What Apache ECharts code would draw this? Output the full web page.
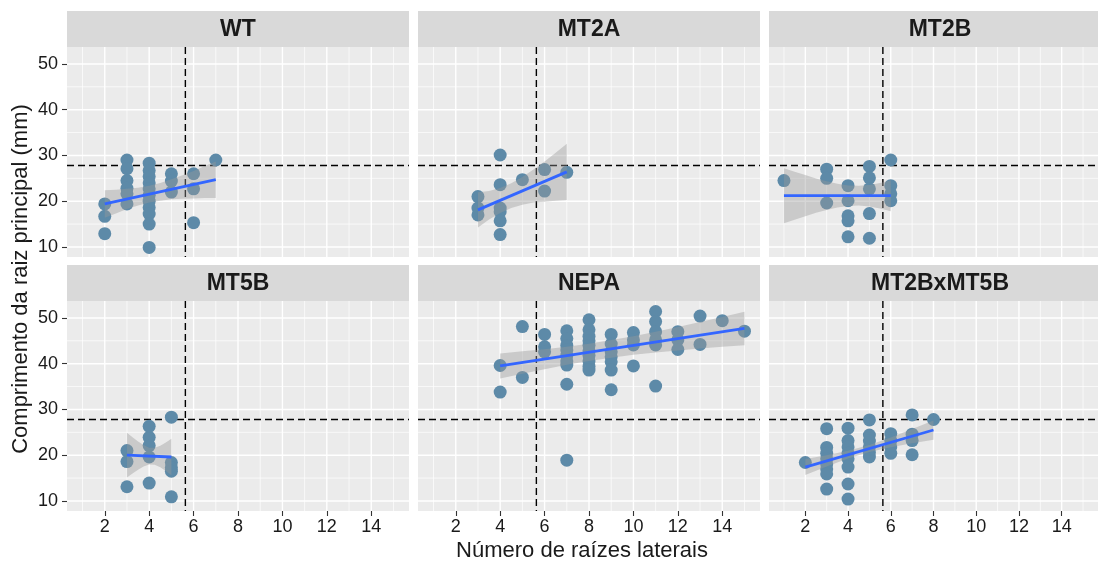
<!DOCTYPE html>
<html>
<head>
<meta charset="utf-8">
<script src="https://cdn.jsdelivr.net/npm/echarts@6/dist/echarts.min.js"></script>
<style>
  html, body { margin: 0; padding: 0; background: #fff; }
  #chart { width: 1098px; height: 563px; }
</style>
</head>
<body>
<div id="chart"></div>
<script>
// facet names and axis ticks
const panelNames = ['WT', 'MT2A', 'MT2B', 'MT5B', 'NEPA', 'MT2BxMT5B'];
const xTicks = [2, 4, 6, 8, 10, 12, 14];
const yTicks = [10, 20, 30, 40, 50];
const xMinor = [1, 3, 5, 7, 9, 11, 13, 15];
const yMinor = [15, 25, 35, 45];
const xRange = [0.3, 15.7];
const yRange = [7.8, 53.7];
const refX = 5.63;   // vertical dashed line
const refY = 27.8;   // horizontal dashed line

// points [lateral roots, root length]
const ptsWT = [[2,19.4],[2,16.7],[2,12.9],
  [3,29.0],[3,27.1],[3,24.5],[3,22.8],[3,21.6],[3,19.4],
  [4,28.3],[4,26.7],[4,25.4],[4,24.0],[4,22.7],[4,21.3],[4,20.0],[4,18.6],[4,17.2],[4,15.0],[4,9.9],
  [5,26.0],[5,24.4],[5,22.0],
  [6,26.0],[6,22.7],[6,15.3],
  [7,29.0]];
const ptsMT2A = [[3,21.0],[3,18.5],[3,17.0],
  [4,30.1],[4,23.6],[4,18.5],[4,17.7],[4,15.7],[4,12.7],
  [5,24.7],
  [6,26.9],[6,22.2],
  [7,26.3]];
const ptsMT2B = [[1,24.5],
  [3,27.0],[3,25.0],[3,19.6],
  [4,23.4],[4,20.1],[4,16.8],[4,15.7],[4,12.2],
  [5,27.6],[5,25.1],[5,22.7],[5,17.3],[5,11.9],
  [6,29.0],[6,23.4],[6,21.6],[6,20.1]];
const ptsMT5B = [[3,21.0],[3,18.6],[3,13.1],
  [4,26.3],[4,23.9],[4,22.1],[4,19.6],[4,13.9],
  [5,28.3],[5,18.4],[5,17.3],[5,16.5],[5,10.9]];
const ptsNEPA = [[4,39.6],[4,33.8],
  [5,48.1],[5,37.0],
  [6,46.4],[6,43.7],[6,42.6],
  [7,47.2],[7,45.5],[7,44.0],[7,43.0],[7,41.8],[7,40.6],[7,39.7],[7,35.5],[7,18.9],
  [8,49.6],[8,47.4],[8,46.0],[8,45.0],[8,44.0],[8,42.8],[8,41.8],[8,40.6],[8,39.4],[8,38.6],
  [9,46.4],[9,44.3],[9,42.6],[9,41.5],[9,40.4],[9,38.6],[9,34.3],
  [10,46.8],[10,45.2],[10,44.1],[10,39.5],
  [11,51.4],[11,49.2],[11,47.0],[11,45.2],[11,44.1],[11,35.1],
  [12,47.0],[12,45.2],[12,43.1],
  [13,50.4],[13,44.2],
  [14,49.4],
  [15,47.1]];
const ptsMT2BxMT5B = [[2,18.4],
  [3,25.8],[3,21.7],[3,20.4],[3,19.2],[3,18.1],[3,17.0],[3,15.9],[3,12.6],
  [4,25.9],[4,23.2],[4,21.8],[4,20.4],[4,19.2],[4,17.4],[4,13.7],[4,10.4],
  [5,27.7],[5,24.4],[5,23.1],[5,21.8],[5,20.6],[5,19.6],
  [6,24.7],[6,23.2],[6,21.8],[6,20.4],
  [7,28.8],[7,24.6],[7,23.2],[7,20.1],
  [8,27.8]];

// fitted lines (ends)
const fitWT = [[2,19.4],[7,24.7]];
const fitMT2A = [[3,18.1],[7,26.4]];
const fitMT2B = [[1,21.2],[6,21.2]];
const fitMT5B = [[3,20.0],[5,19.6]];
const fitNEPA = [[4,39.5],[15,47.7]];
const fitMT2BxMT5B = [[2,17.4],[8,25.5]];

// confidence bands [x, lower, upper]
const bandWT = [[2,16.4,22.4],[2.5,17.3,22.5],[3,18.3,22.7],[3.5,19.05,22.95],[4,19.7,23.4],
  [4.5,20.1,24.0],[5,20.4,24.8],[5.5,20.55,25.65],[6,20.6,26.6],[6.5,20.7,27.7],[7,20.7,28.7]];
const bandMT2A = [[3,14.25,21.95],[3.5,16.0,22.2],[4,17.4,22.9],[4.5,18.5,23.9],[5,19.2,25.3],
  [5.5,19.7,26.9],[6,19.9,28.7],[6.5,20.1,30.6],[7,20.25,32.55]];
const bandMT2B = [[1,15.2,27.2],[1.5,15.95,26.45],[2,16.7,25.7],[2.5,17.45,24.95],[3,18.05,24.35],
  [3.5,18.6,23.8],[4,18.95,23.45],[4.5,19.05,23.35],[5,18.85,23.55],[5.5,18.4,24.0],[6,17.8,24.6]];
const bandMT5B = [[3,15.1,24.9],[3.25,16.0,23.9],[3.5,16.8,23.0],[3.75,17.5,22.2],[4,17.95,21.65],
  [4.25,17.9,21.6],[4.5,17.35,22.05],[4.75,16.55,22.75],[5,15.6,23.6]];
const bandNEPA = [[4,36.75,42.25],[5,37.8,42.7],[6,38.8,43.15],[7,39.75,43.7],[8,40.6,44.35],
  [9,41.3,45.15],[10,41.95,46.0],[11,42.45,47.0],[12,42.9,48.0],[13,43.3,49.1],[14,43.7,50.2],[15,44.05,51.35]];
const bandMT2BxMT5B = [[2,15.65,19.15],[3,17.5,20.0],[4,19.25,20.95],[5,20.7,22.2],
  [6,21.75,23.85],[7,22.6,25.7],[8,23.4,27.6]];

const points = [ptsWT, ptsMT2A, ptsMT2B, ptsMT5B, ptsNEPA, ptsMT2BxMT5B];
const fits = [fitWT, fitMT2A, fitMT2B, fitMT5B, fitNEPA, fitMT2BxMT5B];
const bands = [bandWT, bandMT2A, bandMT2B, bandMT5B, bandNEPA, bandMT2BxMT5B];

// layout
const colLeft = [67, 418, 769];
const rowTop = [47, 301];
const panelW = 342, panelH = 210, stripH = 36;
const FONT = '"Liberation Sans", Arial, Helvetica, sans-serif';

const chart = echarts.init(document.getElementById('chart'));

const grids = [], xAxes = [], yAxes = [], series = [], graphics = [];

// grid line items: [kind, value]  kind 0 = x major, 1 = x minor, 2 = y major, 3 = y minor
const gridItems = []
  .concat(xMinor.map(v => [1, v]))
  .concat(yMinor.map(v => [3, v]))
  .concat(xTicks.map(v => [0, v]))
  .concat(yTicks.map(v => [2, v]));

panelNames.forEach((name, i) => {
  const col = i % 3, row = Math.floor(i / 3);
  const bottom = row === 1, left = col === 0;

  grids.push({
    left: colLeft[col], top: rowTop[row], width: panelW, height: panelH,
    show: true, backgroundColor: '#EBEBEB', borderWidth: 0
  });
  xAxes.push({
    gridIndex: i, type: 'value', min: xRange[0], max: xRange[1],
    axisLine: { show: false }, splitLine: { show: false },
    axisTick: { show: bottom, customValues: xTicks, length: 5, lineStyle: { color: '#333', width: 1.1 } },
    axisLabel: { show: bottom, customValues: xTicks, fontSize: 18, color: '#1a1a1a', margin: 7, fontFamily: FONT }
  });
  yAxes.push({
    gridIndex: i, type: 'value', min: yRange[0], max: yRange[1],
    axisLine: { show: false }, splitLine: { show: false },
    axisTick: { show: left, customValues: yTicks, length: 5, lineStyle: { color: '#333', width: 1.1 } },
    axisLabel: { show: left, customValues: yTicks, fontSize: 18, color: '#1a1a1a', margin: 9, fontFamily: FONT }
  });

  // white panel grid
  series.push({
    type: 'custom', xAxisIndex: i, yAxisIndex: i, silent: true, z: 1,
    data: gridItems,
    renderItem(params, api) {
      const cs = params.coordSys;
      const kind = api.value(0), v = api.value(1);
      const w = (kind === 0 || kind === 2) ? 1.4 : 0.7;
      let shape;
      if (kind < 2) {
        const p = api.coord([v, yRange[0]]);
        shape = { x1: p[0], y1: cs.y, x2: p[0], y2: cs.y + cs.height };
      } else {
        const p = api.coord([xRange[0], v]);
        shape = { x1: cs.x, y1: p[1], x2: cs.x + cs.width, y2: p[1] };
      }
      return { type: 'line', shape, style: { stroke: '#fff', lineWidth: w } };
    }
  });

  // dashed reference lines
  series.push({
    type: 'custom', xAxisIndex: i, yAxisIndex: i, silent: true, z: 2,
    data: [[0, refX], [1, refY]],
    renderItem(params, api) {
      const cs = params.coordSys;
      const kind = api.value(0), v = api.value(1);
      let shape;
      if (kind === 0) {
        const p = api.coord([v, yRange[0]]);
        shape = { x1: p[0], y1: cs.y, x2: p[0], y2: cs.y + cs.height };
      } else {
        const p = api.coord([xRange[0], v]);
        shape = { x1: cs.x, y1: p[1], x2: cs.x + cs.width, y2: p[1] };
      }
      return { type: 'line', shape, style: { stroke: '#000', lineWidth: 1.4, lineDash: [7, 4] } };
    }
  });

  series.push({
    type: 'scatter', xAxisIndex: i, yAxisIndex: i, z: 3,
    data: points[i], symbolSize: 13,
    itemStyle: { color: '#5D8AA8', opacity: 1 }
  });

  const band = bands[i];
  series.push({
    type: 'custom', xAxisIndex: i, yAxisIndex: i, silent: true, z: 4,
    data: band,
    renderItem(params, api) {
      if (params.dataIndex !== 0) return;
      const upper = band.map(r => api.coord([r[0], r[2]]));
      const lower = band.slice().reverse().map(r => api.coord([r[0], r[1]]));
      return { type: 'polygon', shape: { points: upper.concat(lower) },
               style: { fill: 'rgba(153,153,153,0.4)' } };
    }
  });

  series.push({
    type: 'line', xAxisIndex: i, yAxisIndex: i, z: 5,
    data: fits[i], symbol: 'none', silent: true,
    lineStyle: { color: '#3366FF', width: 2.8 }
  });

  // facet strip
  graphics.push({
    type: 'rect', silent: true,
    shape: { x: colLeft[col], y: rowTop[row] - stripH, width: panelW, height: stripH },
    style: { fill: '#D9D9D9' }
  });
  graphics.push({
    type: 'text', silent: true,
    x: colLeft[col] + panelW / 2, y: rowTop[row] - stripH / 2 + 1,
    style: { text: name, textAlign: 'center', textVerticalAlign: 'middle',
             font: 'bold 23px ' + FONT, fill: '#1a1a1a' }
  });
});

graphics.push({
  type: 'text', silent: true, x: 582, y: 551,
  style: { text: 'Número de raízes laterais', textAlign: 'center', textVerticalAlign: 'middle',
           font: '22px ' + FONT, fill: '#1a1a1a' }
});
graphics.push({
  type: 'text', silent: true, x: 21, y: 279, rotation: Math.PI / 2,
  style: { text: 'Comprimento da raiz principal (mm)', textAlign: 'center', textVerticalAlign: 'middle',
           font: '22px ' + FONT, fill: '#1a1a1a' }
});

chart.setOption({
  animation: false,
  backgroundColor: '#fff',
  grid: grids,
  xAxis: xAxes,
  yAxis: yAxes,
  series: series,
  graphic: graphics
});
</script>
</body>
</html>
